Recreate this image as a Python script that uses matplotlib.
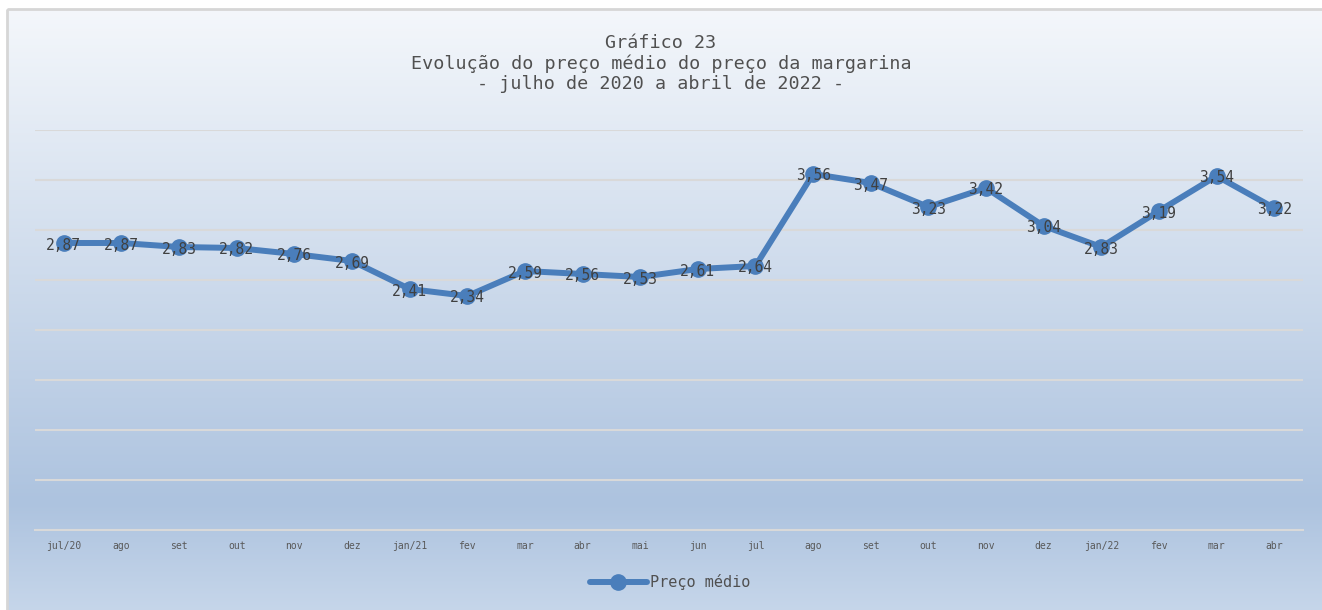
import numpy as np
import matplotlib
matplotlib.use("Agg")
import matplotlib.pyplot as plt
from matplotlib.colors import LinearSegmentedColormap
from matplotlib.patches import Rectangle

meses = ["jul/20", "ago", "set", "out", "nov", "dez", "jan/21", "fev", "mar", "abr", "mai",
         "jun", "jul", "ago", "set", "out", "nov", "dez", "jan/22", "fev", "mar", "abr"]
preco = [2.87, 2.87, 2.83, 2.82, 2.76, 2.69, 2.41, 2.34, 2.59, 2.56, 2.53,
         2.61, 2.64, 3.56, 3.47, 3.23, 3.42, 3.04, 2.83, 3.19, 3.54, 3.22]

W, H = 1322, 610
mono = "DejaVu Sans Mono"
linha = "#4a7ebb"

fig = plt.figure(figsize=(W / 100, H / 100), dpi=100)
fig.patch.set_facecolor("white")

# background with gradient and border
bg = fig.add_axes([0, 0, 1, 1])
bg.axis("off")
cmap = LinearSegmentedColormap.from_list(
    "fundo", [(0, "#f4f7fb"), (0.82, "#adc3df"), (1.0, "#c6d6ea")])
grad = np.linspace(0, 1, 256).reshape(-1, 1)
bg.imshow(grad, cmap=cmap, aspect="auto", extent=(7, W + 2, H + 2, 9), zorder=0)
bg.add_patch(Rectangle((7, 9), W, H, fill=False, edgecolor="#d6d6d6", lw=2, zorder=1))
bg.set_xlim(0, W)
bg.set_ylim(H, 0)

ax = fig.add_axes([35 / W, 1 - 530 / H, (1303 - 35) / W, (530 - 130) / H])
ax.set_facecolor("none")
x = np.arange(len(preco))
ax.plot(x, preco, color=linha, lw=4.3, marker="o", ms=11, zorder=3,
        label="Preço médio", solid_capstyle="round")
for xi, v in zip(x, preco):
    ax.text(xi, v - 0.02, f"{v:.2f}".replace(".", ","), ha="center", va="center",
            fontsize=10.5, family=mono, color="#404040", zorder=4)

ax.set_xlim(-0.5, len(preco) - 0.5)
ax.set_ylim(0, 4)
ax.set_yticks(np.arange(0, 4.01, 0.5))
ax.grid(axis="y", color="#d9d9d9", lw=1.5)
ax.set_axisbelow(True)
ax.set_yticklabels([])
ax.tick_params(axis="y", length=0)
ax.set_xticks(x)
ax.set_xticklabels(meses, fontsize=7, family=mono, color="#595959")
ax.tick_params(axis="x", length=0, pad=8)
for s in ["top", "right", "left"]:
    ax.spines[s].set_visible(False)
ax.spines["bottom"].set_color("#d9d9d9")
ax.spines["bottom"].set_linewidth(1.5)

fig.text(0.5, 1 - 34 / H,
         "Gráfico 23\nEvolução do preço médio do preço da margarina\n- julho de 2020 a abril de 2022 -",
         ha="center", va="top", fontsize=13.2, family=mono, color="#505050", linespacing=1.15)

leg = fig.legend(loc="center", bbox_to_anchor=(670 / W, 1 - 582 / H), frameon=False,
                 prop={"family": mono, "size": 11}, handlelength=3.7, handletextpad=0.2)
for t in leg.get_texts():
    t.set_color("#505050")

fig.savefig("out.png", dpi=100)
